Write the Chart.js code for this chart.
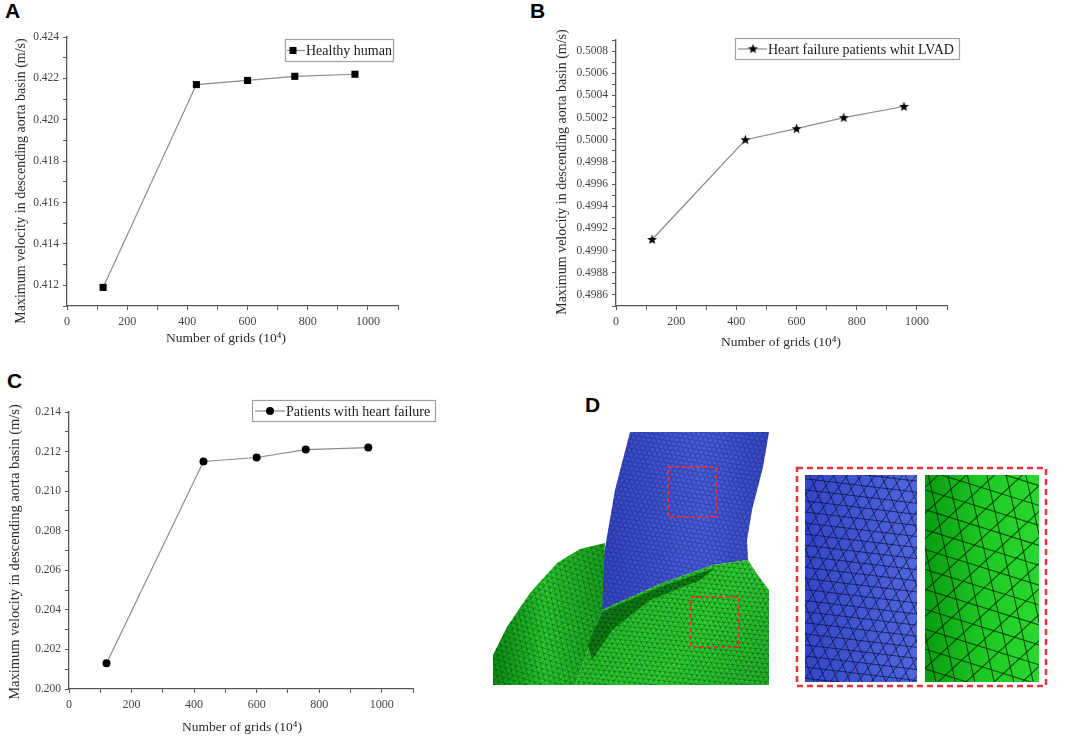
<!DOCTYPE html>
<html>
<head>
<meta charset="utf-8">
<script src="https://cdn.jsdelivr.net/npm/chart.js@4/dist/chart.umd.min.js"></script>
<style>
  html, body { margin: 0; padding: 0; background: #fff; }
  body { width: 1065px; height: 738px; position: relative; overflow: hidden; }
  canvas { position: absolute; }
  .tag { position: absolute; font: bold 21px "Liberation Sans", Arial, sans-serif; line-height: 21px; color: #000; }
</style>
</head>
<body>
<div class="tag" style="left:5px;top:0px">A</div>
<div class="tag" style="left:530px;top:0px">B</div>
<div class="tag" style="left:7px;top:370px">C</div>
<div class="tag" style="left:585px;top:394px">D</div>

<canvas id="chartA" width="430" height="350" style="left:0;top:0"></canvas>
<canvas id="chartB" width="430" height="355" style="left:540px;top:0"></canvas>
<canvas id="chartC" width="470" height="378" style="left:0;top:360px"></canvas>
<canvas id="mesh" width="585" height="280" style="left:480px;top:420px"></canvas>

<script>
// grid counts (x 10^4) used in all three studies
const grids = [120, 430, 600, 757, 957];

// max velocity in descending aorta basin (m/s)
const healthy = [0.4119, 0.4217, 0.4219, 0.4221, 0.4222];
const lvad = [0.4991, 0.5000, 0.5001, 0.5002, 0.5003];
const failure = [0.2013, 0.2115, 0.2117, 0.2121, 0.2122];

const xTitle = 'Number of grids (10\u2074)';
const yTitle = 'Maximum velocity in descending aorta basin (m/s)';

const serif = '"Liberation Serif", "Times New Roman", serif';

// filled five point star for panel B markers
function starImage() {
  const c = document.createElement('canvas');
  c.width = 11; c.height = 11;
  const g = c.getContext('2d');
  g.fillStyle = '#000';
  g.beginPath();
  for (let i = 0; i < 10; i++) {
    const r = i % 2 ? 2.2 : 5.2;
    const a = -Math.PI / 2 + i * Math.PI / 5;
    g.lineTo(5.5 + r * Math.cos(a), 5.8 + r * Math.sin(a));
  }
  g.closePath();
  g.fill();
  return c;
}
const star = starImage();

// legend drawn as a framed box inside the plot, like Origin does
const boxLegend = {
  id: 'boxLegend',
  afterDraw(chart, args, o) {
    const ctx = chart.ctx;
    const ds = chart.data.datasets[0];
    ctx.save();
    ctx.strokeStyle = '#a0a0a0';
    ctx.lineWidth = 1.2;
    ctx.strokeRect(o.x + 0.5, o.y + 0.5, o.w, o.h);
    const my = o.y + o.h / 2 + 0.5;
    ctx.strokeStyle = ds.borderColor;
    ctx.lineWidth = ds.borderWidth;
    ctx.beginPath();
    ctx.moveTo(o.x + o.l0, my);
    ctx.lineTo(o.x + o.l1, my);
    ctx.stroke();
    ctx.fillStyle = '#000';
    const px = o.x + o.mx;
    if (ds.pointStyle === 'rect') {
      ctx.fillRect(px - 3.5, my - 3.5, 7, 7);
    } else if (ds.pointStyle === 'circle') {
      ctx.beginPath(); ctx.arc(px, my, ds.pointRadius, 0, Math.PI * 2); ctx.fill();
    } else {
      ctx.drawImage(ds.pointStyle, px - 5.5, my - 5.8);
    }
    ctx.fillStyle = '#1a1a1a';
    ctx.font = '14px ' + serif;
    ctx.textBaseline = 'middle';
    ctx.fillText(ds.label, o.x + o.tx, my + 1);
    ctx.restore();
  }
};

// axis titles placed where the original figure has them
const axisTitles = {
  id: 'axisTitles',
  afterDraw(chart, args, o) {
    const ctx = chart.ctx;
    ctx.save();
    ctx.fillStyle = '#2a2a2a';
    ctx.textAlign = 'center';
    ctx.textBaseline = 'middle';
    ctx.font = '13.5px ' + serif;
    ctx.fillText(xTitle, o.xt[0], o.xt[1]);
    ctx.translate(o.yt[0], o.yt[1]);
    ctx.rotate(-Math.PI / 2);
    ctx.font = o.ys + 'px ' + serif;
    ctx.fillText(yTitle, 0, 0);
    ctx.restore();
  }
};

function makeChart(id, label, values, marker, radius, y, box) {
  const decimals = y.decimals;
  const unit = Math.pow(10, decimals);
  return new Chart(document.getElementById(id), {
    type: 'line',
    data: {
      datasets: [{
        label: label,
        data: grids.map((g, i) => ({x: g, y: values[i]})),
        borderColor: '#8c8c8c',
        borderWidth: 1.2,
        pointStyle: marker,
        pointRadius: radius,
        pointBackgroundColor: '#000',
        pointBorderColor: '#000',
        pointBorderWidth: 0,
        tension: 0
      }]
    },
    plugins: [boxLegend, axisTitles],
    options: {
      responsive: false,
      animation: false,
      devicePixelRatio: 1,
      layout: {padding: {top: box.top, right: box.right, left: 0, bottom: 0}},
      plugins: {
        legend: {display: false},
        tooltip: {enabled: false},
        boxLegend: box.legend,
        axisTitles: box.titles
      },
      scales: {
        x: {
          type: 'linear',
          min: 0, max: 1100,
          afterFit: s => { s.height = box.xh; },
          border: {display: true, color: '#555', width: 1.3},
          grid: {drawOnChartArea: false, drawTicks: true, tickLength: 4, color: '#555'},
          ticks: {
            stepSize: 100, maxTicksLimit: 100, autoSkip: false, maxRotation: 0,
            padding: 5, color: '#444', font: {family: serif, size: 12},
            callback: v => (v % 200 === 0 && v < 1100) ? String(v) : ''
          }
        },
        y: {
          min: y.min, max: y.max,
          afterFit: s => { s.width = box.yw; },
          border: {display: true, color: '#555', width: 1.3},
          grid: {drawOnChartArea: false, drawTicks: true, tickLength: 4, color: '#555'},
          ticks: {
            stepSize: y.step, maxTicksLimit: 100, autoSkip: false,
            padding: 4, color: '#444', font: {family: serif, size: 11.5},
            callback: v => Math.round(v * unit) % 2 === 0 ? v.toFixed(decimals) : ''
          }
        }
      }
    }
  });
}

makeChart('chartA', 'Healthy human', healthy, 'rect', 5,
  {min: 0.411, max: 0.424, step: 0.001, decimals: 3},
  {top: 37, right: 32, yw: 67, xh: 44,
   titles: {xt: [226, 338], yt: [21, 181], ys: 14},
   legend: {x: 285, y: 39, w: 108, h: 22, l0: 2, l1: 20, mx: 8, tx: 21}});

makeChart('chartB', 'Heart failure patients whit LVAD', lvad, star, 5,
  {min: 0.4985, max: 0.5009, step: 0.0001, decimals: 4},
  {top: 40, right: 23, yw: 76, xh: 49,
   titles: {xt: [241, 342], yt: [22, 172], ys: 14},
   legend: {x: 195, y: 38, w: 224, h: 21, l0: 3, l1: 32, mx: 18, tx: 33}});

makeChart('chartC', 'Patients with heart failure', failure, 'circle', 4,
  {min: 0.200, max: 0.214, step: 0.001, decimals: 3},
  {top: 52, right: 57, yw: 69, xh: 49,
   titles: {xt: [242, 367], yt: [15, 192], ys: 14.5},
   legend: {x: 252, y: 40, w: 183, h: 21, l0: 3, l1: 33, mx: 18, tx: 34}});

// panel D: sketch of the meshed aorta model (illustration, not data)
(function drawMesh() {
  const ctx = document.getElementById('mesh').getContext('2d');
  ctx.translate(-480, -420);

  function path(pts) {
    ctx.beginPath();
    pts.forEach((p, i) => i ? ctx.lineTo(p[0], p[1]) : ctx.moveTo(p[0], p[1]));
    ctx.closePath();
  }
  function triMesh(bx, spacing, rot, stroke, width) {
    const cx = (bx[0] + bx[2]) / 2, cy = (bx[1] + bx[3]) / 2;
    const R = Math.hypot(bx[2] - bx[0], bx[3] - bx[1]);
    ctx.strokeStyle = stroke;
    ctx.lineWidth = width;
    for (let k = 0; k < 3; k++) {
      const a = rot + k * Math.PI / 3;
      const dx = Math.cos(a), dy = Math.sin(a);
      ctx.beginPath();
      for (let o = -R; o <= R; o += spacing) {
        const ox = cx - dy * o, oy = cy + dx * o;
        ctx.moveTo(ox - dx * R, oy - dy * R);
        ctx.lineTo(ox + dx * R, oy + dy * R);
      }
      ctx.stroke();
    }
  }
  function region(pts, fill, spacing, rot, stroke, width) {
    ctx.save();
    path(pts);
    ctx.fillStyle = fill;
    ctx.fill();
    ctx.clip();
    const xs = pts.map(p => p[0]), ys = pts.map(p => p[1]);
    triMesh([Math.min(...xs), Math.min(...ys), Math.max(...xs), Math.max(...ys)], spacing, rot, stroke, width);
    ctx.restore();
  }

  // blue descending aorta
  const gBlue = ctx.createLinearGradient(600, 0, 770, 0);
  gBlue.addColorStop(0, '#3445c0');
  gBlue.addColorStop(0.6, '#4a5fdc');
  gBlue.addColorStop(1, '#3648c4');
  region([[630, 432], [769, 432], [763, 467], [752, 510], [747, 540], [748, 560],
          [713, 565], [660, 584], [602, 610], [603, 560], [615, 490]],
         gBlue, 4.4, 0.15, 'rgba(20,20,80,0.42)', 0.6);

  // left green lobe
  const gLeft = ctx.createLinearGradient(490, 0, 600, 0);
  gLeft.addColorStop(0, '#0a8a14');
  gLeft.addColorStop(0.5, '#2ac830');
  gLeft.addColorStop(1, '#1aa521');
  region([[493, 685], [493, 655], [507, 627], [530, 593], [557, 563], [580, 549],
          [605, 543], [602, 610], [590, 645], [575, 685]],
         gLeft, 5, 0.3, 'rgba(0,40,0,0.5)', 0.6);

  // right green region
  const gRight = ctx.createLinearGradient(580, 560, 770, 690);
  gRight.addColorStop(0, '#22b829');
  gRight.addColorStop(0.6, '#30d034');
  gRight.addColorStop(1, '#22b229');
  region([[602, 610], [660, 584], [713, 565], [748, 560], [757, 574], [769, 590],
          [769, 685], [575, 685], [590, 645]],
         gRight, 4.6, 0.1, 'rgba(0,40,0,0.5)', 0.6);

  // darker fold along the junction
  region([[602, 612], [660, 587], [715, 568], [700, 580], [650, 600], [612, 630], [592, 660], [588, 645]],
         '#0f7d16', 4.6, 0.1, 'rgba(0,30,0,0.5)', 0.6);

  // red dashed zoom markers
  ctx.save();
  ctx.strokeStyle = '#e2343c';
  ctx.lineWidth = 2;
  ctx.setLineDash([4, 3]);
  ctx.strokeRect(668, 467, 48, 50);
  ctx.strokeRect(691, 597, 48, 50);
  ctx.restore();

  // inset: magnified meshes
  const gInB = ctx.createLinearGradient(805, 0, 917, 0);
  gInB.addColorStop(0, '#3346c6');
  gInB.addColorStop(1, '#5066dc');
  region([[805, 475], [917, 475], [917, 682], [805, 682]], gInB, 11, 0.12, 'rgba(10,10,60,0.7)', 1);

  const gInG = ctx.createLinearGradient(925, 0, 1039, 0);
  gInG.addColorStop(0, '#0a9a12');
  gInG.addColorStop(0.5, '#1ec824');
  gInG.addColorStop(1, '#2ad82e');
  region([[925, 475], [1039, 475], [1039, 682], [925, 682]], gInG, 19, 1.35, 'rgba(0,35,0,0.75)', 1.1);

  ctx.save();
  ctx.strokeStyle = '#e2343c';
  ctx.lineWidth = 2.5;
  ctx.setLineDash([6, 4]);
  ctx.strokeRect(797, 468, 249, 218);
  ctx.restore();
})();
</script>
</body>
</html>
